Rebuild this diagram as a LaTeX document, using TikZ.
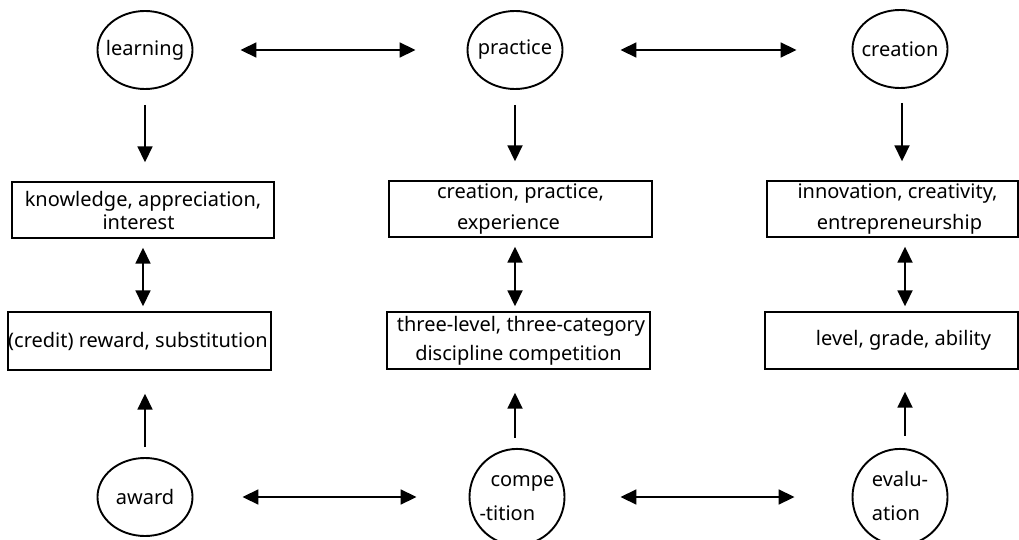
\documentclass[tikz,border=0pt]{standalone}
\usepackage{fontspec}
\setmainfont{Noto Sans}
\usetikzlibrary{shapes.geometric,arrows.meta}
\newcommand{\zw}[1]{\makebox[0pt]{#1}}
\newcommand{\zwl}[1]{\makebox[0pt]{\begin{tabular}{@{}l@{}}#1\end{tabular}}}
\begin{document}
\begin{tikzpicture}[x=1pt,y=-1pt,
  circ/.style={draw, ellipse, line width=1.9pt, minimum width=95pt, minimum height=78pt, inner sep=0pt, font=\fontsize{20}{34}\selectfont},
  box/.style={draw, line width=1.4pt, minimum width=262pt, minimum height=56pt, inner sep=0pt, font=\fontsize{20}{31}\selectfont, align=center},
  tip/.tip={Triangle[length=16pt,width=15pt]},
  arr/.style={line width=1.8pt, -tip},
  darr/.style={line width=1.8pt, tip-tip}]
\useasboundingbox (0,0) rectangle (1019,540);
% ellipses
\node[circ] (learning) at (145,50) {\zw{learning}};
\node[circ] (practice) at (515,50) {\zw{practice}};
\node[circ] (creation) at (900,49) {\zw{creation}};
\node[circ] (award) at (145,497) {\zw{award}};
\node[circ] (competition) at (517,497) {\zwl{\hspace*{11pt}compe\\-tition}};
\node[circ] (evaluation) at (900,497) {\zwl{evalu-\\ation}};
% boxes
\node[box, font=\fontsize{20}{23}\selectfont] (b1) at (143,210) {knowledge, appreciation,\\interest\hspace*{9pt}};
\node[box, minimum width=263pt] (b2) at (520.5,209) {creation, practice,\\experience\hspace*{24pt}};
\node[box, minimum width=251pt] (b3) at (892.5,209) {\hspace*{10pt}innovation, creativity,\\\hspace*{14pt}entrepreneurship};
\node[box, minimum width=263pt, minimum height=58pt] (b4) at (139.5,341) {\makebox[0pt]{\hspace*{-3pt}(credit) reward, substitution}};
\node[box, minimum width=263pt, minimum height=57pt] (b5) at (518.5,340.5) {\raisebox{-2pt}{\hspace*{5pt}three-level, three-category}\\discipline competition};
\node[box, minimum width=253pt, minimum height=57pt] (b6) at (891.5,340.5) {\hspace*{24pt}level, grade, ability};
% horizontal arrows
\draw[darr, shorten <=47pt, shorten >=51pt] (learning.east) -- (practice.west);
\draw[darr, shorten <=57pt, shorten >=55pt] (practice.east) -- (practice.east -| creation.west);
\draw[darr, shorten <=49pt, shorten >=52pt] (award.east) -- (competition.west);
\draw[darr, shorten <=55pt, shorten >=57pt] (competition.east) -- (evaluation.west);
% down arrows
\draw[arr, shorten <=15pt, shorten >=19pt] (learning.south) -- (learning.south |- b1.north);
\draw[arr, shorten <=15pt, shorten >=19pt] (practice.south) -- (practice.south |- b2.north);
\draw[arr, shorten <=14pt, shorten >=19pt] ([xshift=2pt]creation.south) -- ([xshift=2pt]creation.south |- b3.north);
% double vertical arrows
\draw[darr, shorten <=9pt, shorten >=5pt] (b1.south) -- (b1.south |- b4.north);
\draw[darr, shorten <=9pt, shorten >=5pt] (practice |- b2.south) -- (practice |- b5.north);
\draw[darr, shorten <=9pt, shorten >=5pt] ([xshift=5pt]evaluation |- b3.south) -- ([xshift=5pt]evaluation |- b6.north);
% up arrows
\draw[arr, shorten <=10pt, shorten >=23pt] (award.north) -- (award |- b4.south);
\draw[arr, shorten <=10pt, shorten >=23pt] (competition.north -| practice) -- (practice |- b5.south);
\draw[arr, shorten <=12pt, shorten >=22pt] ([xshift=5pt]evaluation.north) -- ([xshift=5pt]evaluation |- b6.south);
\end{tikzpicture}
\end{document}
